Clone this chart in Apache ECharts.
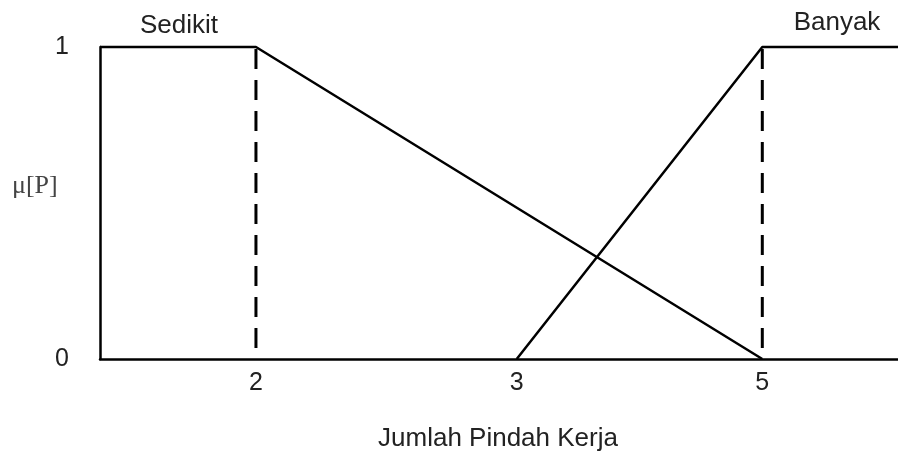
<!DOCTYPE html>
<html>
<head>
<meta charset="utf-8">
<script src="https://cdn.jsdelivr.net/npm/echarts@6/dist/echarts.min.js"></script>
<style>
  html, body { margin: 0; padding: 0; background: #fff; }
  #chart { width: 898px; height: 457px; }
</style>
</head>
<body>
<div id="chart"></div>
<script>
// axis positions (the x scale in the picture is not linear, so 3 sits further right)
const xMin = 1.076
const xMax = 5.804
const xTickPos = [2, 3.545, 5]
const xTickLabels = ['2', '3', '5']

// membership functions
const sedikit = [[xMin, 1], [2, 1], [5, 0]]
const banyak = [[3.545, 0], [5, 1], [xMax, 1]]
const guide2 = [[2, 0], [2, 1]]
const guide5 = [[5, 0], [5, 1]]

const font = 'Liberation Sans, Arial, sans-serif'
const myChart = echarts.init(document.getElementById('chart'))

const lineSeries = (name, data, dashed) => ({
  name: name,
  type: 'line',
  data: data,
  symbol: 'none',
  clip: false,
  silent: true,
  lineStyle: dashed
    ? { color: '#000', width: 3, type: [20, 11], dashOffset: 20 }
    : { color: '#000', width: 2.5 }
})

const option = {
  animation: false,
  backgroundColor: '#fff',
  grid: { left: 100, right: 0, top: 47, bottom: 98 },
  xAxis: {
    type: 'value',
    min: xMin,
    max: xMax,
    axisLine: { show: true, onZero: false, lineStyle: { color: '#000', width: 2.5 } },
    axisTick: { show: false },
    splitLine: { show: false },
    axisLabel: {
      customValues: xTickPos,
      margin: 12,
      fontSize: 25,
      fontFamily: font,
      color: '#222',
      formatter: v => xTickLabels[xTickPos.indexOf(v)]
    }
  },
  yAxis: {
    type: 'value',
    min: 0,
    max: 1,
    interval: 1,
    axisLine: { show: true, lineStyle: { color: '#000', width: 2.5 } },
    axisTick: { show: false },
    splitLine: { show: false },
    axisLabel: { margin: 31, fontSize: 25, fontFamily: font, color: '#222' }
  },
  graphic: [
    { type: 'text', x: 179, y: 26, style: { text: 'Sedikit', font: '26px ' + font, fill: '#222', textAlign: 'center', textVerticalAlign: 'middle' } },
    { type: 'text', x: 837, y: 23, style: { text: 'Banyak', font: '26px ' + font, fill: '#222', textAlign: 'center', textVerticalAlign: 'middle' } },
    { type: 'text', x: 498, y: 439, style: { text: 'Jumlah Pindah Kerja', font: '26px ' + font, fill: '#222', textAlign: 'center', textVerticalAlign: 'middle' } },
    { type: 'text', x: 12, y: 186, style: { text: 'μ[P]', font: '26px Liberation Serif, serif', fill: '#444', textAlign: 'left', textVerticalAlign: 'middle' } }
  ],
  series: [
    lineSeries('Sedikit', sedikit, false),
    lineSeries('Banyak', banyak, false),
    lineSeries('guide2', guide2, true),
    lineSeries('guide5', guide5, true)
  ]
}
myChart.setOption(option)
</script>
</body>
</html>
